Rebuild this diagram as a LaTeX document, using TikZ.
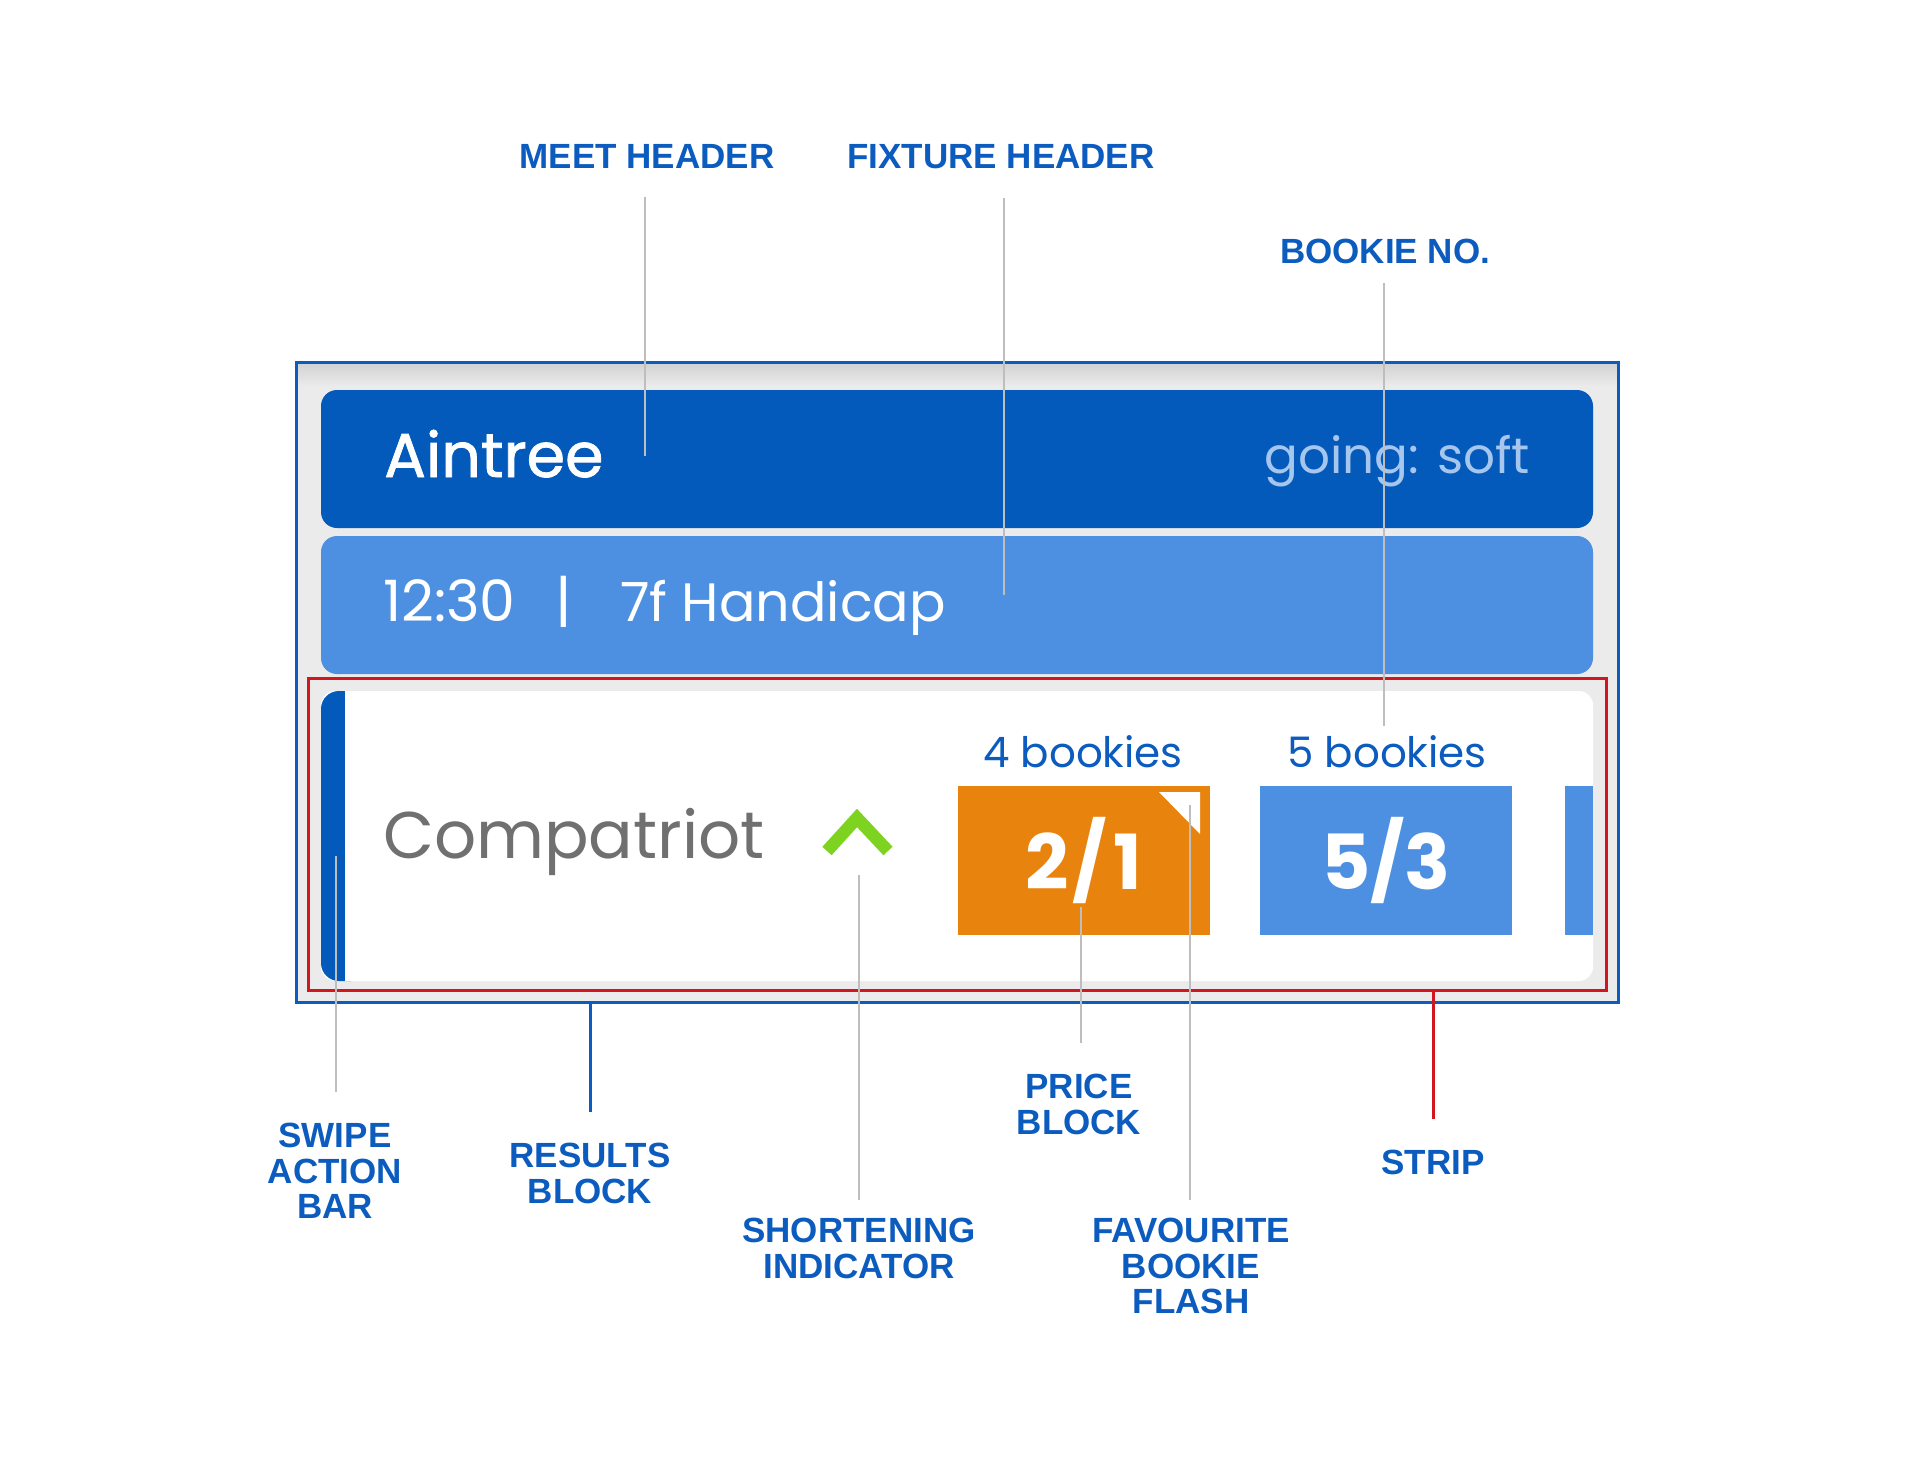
\documentclass[tikz,border=0pt]{standalone}
\usepackage{fontspec}
\setmainfont{Poppins}
\newfontfamily\labelfont{Liberation Sans}
\newfontfamily\heavyfont{Poppins}[FakeBold=1.2]
\usepackage{tikz}
\definecolor{darkblue}{RGB}{3,90,187}
\definecolor{lightblue}{RGB}{77,143,224}
\definecolor{paleblue}{RGB}{166,198,238}
\definecolor{labelblue}{RGB}{11,92,190}
\definecolor{framegrey}{RGB}{235,235,235}
\definecolor{linegrey}{RGB}{190,190,190}
\definecolor{stripred}{RGB}{210,22,32}
\definecolor{priceorange}{RGB}{232,131,13}
\definecolor{arrowgreen}{RGB}{126,211,33}
\definecolor{namegrey}{RGB}{112,112,112}

\begin{document}
\begin{tikzpicture}[x=1pt, y=-1pt,
  panel/.style={anchor=north west, inner sep=0pt, outer sep=0pt},
  odds/.style={panel, minimum width=252, minimum height=149, text=white,
    font=\bfseries\fontsize{76}{76}\selectfont},
  uitext/.style={inner sep=0pt, font=\fontsize{#1}{#1}\selectfont},
  tag/.style={anchor=north, inner sep=0pt, align=center, text=labelblue,
    font=\labelfont\bfseries\fontsize{35}{35.5}\selectfont},
  pointer/.style={draw=linegrey, line width=2.5pt, shorten <=#1},
  pointer/.default=31pt
]
\useasboundingbox (0,0) rectangle (1920,1464);

\node[panel, fill=framegrey, minimum width=1322, minimum height=640] (frame) at (296,362) {};
\shade[top color=black!18, bottom color=framegrey] (frame.north west) rectangle ([yshift=-24pt]frame.north east);
\draw[labelblue, line width=3pt] (frame.north west) rectangle (frame.south east);

\node[panel, fill=darkblue, rounded corners=16pt, minimum width=1272, minimum height=138] (meet) at (321,390) {};
\node[panel, fill=lightblue, rounded corners=16pt, minimum width=1272, minimum height=138] (fixture) at (321,536) {};
\node[panel, draw=stripred, line width=3pt, minimum width=1298, minimum height=312] (strip) at (308,678) {};
\node[panel, fill=white, rounded corners=14pt, minimum width=1272, minimum height=290] (results) at (321,691) {};
\node[panel, fill=darkblue, rounded corners=18pt, minimum width=48, minimum height=290] (swipe) at (321,691) {};
\fill[white] ([xshift=24pt]swipe.north west) rectangle ([xshift=3pt]swipe.south east);

\node[inner sep=0pt, anchor=base west, text=white, font=\heavyfont\fontsize{62}{62}\selectfont] (meetname) at (384,477) {Aintree};
\node[uitext=50, anchor=base east, text=paleblue] (going) at (1530,473) {going: soft};
\node[uitext=57, anchor=base west, text=white] (time) at (383,621) {12:30};
\node[uitext=57, anchor=base, text=white] (sep) at (564,621) {|};
\node[uitext=54, anchor=base west, text=white] (race) at (620,621) {7f Handicap};

\node[uitext=66, anchor=base west, text=namegrey] (horse) at (383,858) {Compatriot};
\draw[arrowgreen, line width=12.5pt, miter limit=4] (827,851) -- (857,818) -- (888,851);

\node[uitext=42, anchor=base, text=labelblue] (count1) at (1083,767) {4 bookies};
\node[uitext=42, anchor=base, text=labelblue] (count2) at (1387,767) {5 bookies};
\node[odds, fill=priceorange] (price1) at (958,786) {2\kern3pt/\kern7pt1};
\fill[white] (1159,792) -- (1200,792) -- (1200,834) -- cycle;
\node[odds, fill=lightblue] (price2) at (1260,786) {5/3};
\node[panel, fill=lightblue, minimum width=28, minimum height=149] (price3) at (1565,786) {};

\coordinate (meetpt) at (645,456);
\coordinate (fixpt) at (1004,595);
\coordinate (bookpt) at (1384,726);
\coordinate (swipept) at (336,856);
\coordinate (shortpt) at (859,875);
\coordinate (pricept) at (1081,907);
\coordinate (flashpt) at (1190,805);

\node[tag] (meetlbl) at (647,144) {MEET HEADER};
\node[tag] (fixlbl) at (1001,144) {FIXTURE HEADER};
\node[tag] (booklbl) at (1385,239) {BOOKIE NO.};
\node[tag] (swipelbl) at (335,1123) {SWIPE\\ACTION\\BAR};
\node[tag] (resultslbl) at (590,1143) {RESULTS\\BLOCK};
\node[tag] (shortlbl) at (859,1218) {SHORTENING\\INDICATOR};
\node[tag] (pricelbl) at (1079,1074) {PRICE\\BLOCK};
\node[tag] (flashlbl) at (1191,1218) {FAVOURITE\\BOOKIE\\FLASH};
\node[tag] (striplbl) at (1433,1150) {STRIP};

\draw[pointer=29pt] (meetlbl.south -| meetpt) -- (meetpt);
\draw[pointer=29pt] (fixlbl.south -| fixpt) -- (fixpt);
\draw[pointer=19pt] (booklbl.south -| bookpt) -- (bookpt);
\draw[pointer] (swipelbl.north -| swipept) -- (swipept);
\draw[pointer=18pt] (shortlbl.north -| shortpt) -- (shortpt);
\draw[pointer] (pricelbl.north -| pricept) -- (pricept);
\draw[pointer=18pt] (flashlbl.north -| flashpt) -- (flashpt);
\draw[labelblue, line width=3pt, shorten <=31pt] (resultslbl.north) -- (resultslbl.north |- frame.south);
\draw[stripred, line width=3pt, shorten <=31pt] (striplbl.north) -- (striplbl.north |- strip.south);
\end{tikzpicture}
\end{document}
